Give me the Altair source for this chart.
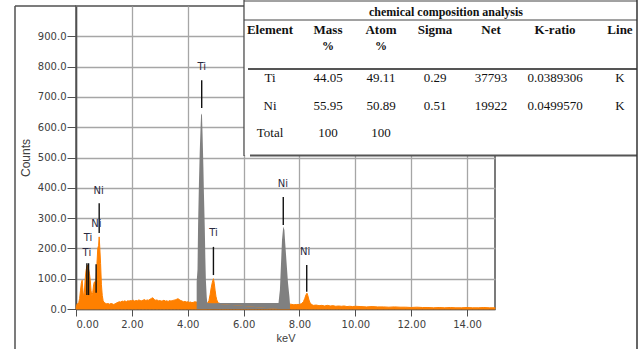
import altair as alt
import pandas as pd

# ---------------- data ----------------
# orange spectrum, split in segments (keV, counts)
low_kev = [0.00, 0.02, 0.05, 0.08, 0.10, 0.13, 0.16, 0.19, 0.22, 0.24, 0.27, 0.30, 0.33, 0.36,
           0.39, 0.42, 0.45, 0.48, 0.51, 0.54, 0.57, 0.60, 0.63, 0.66, 0.69, 0.72, 0.75, 0.78,
           0.81, 0.83, 0.85, 0.88, 0.91, 0.94, 0.97]
low_counts = [0, 12, 18, 15, 22, 35, 60, 85, 95, 70, 38, 55, 100, 128,
              140, 145, 132, 118, 95, 60, 42, 55, 80, 90, 75, 100, 150, 200,
              210, 238, 205, 150, 80, 45, 28]

bg1_kev = [1.00, 1.05, 1.10, 1.15, 1.20, 1.25, 1.30, 1.35, 1.40, 1.45, 1.50, 1.55, 1.60, 1.65,
           1.70, 1.75, 1.80, 1.85, 1.90, 1.95, 2.00, 2.05, 2.10, 2.15, 2.20, 2.25, 2.30, 2.35,
           2.40, 2.45, 2.50, 2.55, 2.60, 2.65, 2.70, 2.75, 2.80, 2.85, 2.90, 2.95, 3.00, 3.05,
           3.10, 3.15, 3.20, 3.25, 3.30, 3.35, 3.40, 3.45, 3.50, 3.55, 3.60, 3.65, 3.70, 3.75,
           3.80, 3.85, 3.90, 3.95, 4.00, 4.05, 4.10, 4.15, 4.20, 4.25, 4.30]
bg1_counts = [22, 19, 17, 18, 16, 18, 17, 15, 17, 20, 22, 24, 23, 26,
              25, 27, 24, 27, 26, 28, 27, 29, 26, 28, 27, 30, 28, 27,
              29, 31, 28, 30, 29, 32, 35, 37, 31, 29, 30, 27, 28, 26,
              27, 29, 26, 27, 25, 28, 26, 28, 29, 30, 32, 34, 31, 28,
              26, 24, 25, 23, 24, 22, 23, 21, 22, 24, 23]

tikb_kev = [4.72, 4.76, 4.80, 4.84, 4.88, 4.92, 4.95, 4.98, 5.01, 5.04, 5.08]
tikb_counts = [20, 28, 47, 70, 88, 100, 85, 62, 42, 30, 22]

bg2_kev = [5.10, 5.2, 5.3, 5.4, 5.5, 5.6, 5.7, 5.8, 5.9, 6.0, 6.1, 6.2, 6.3, 6.4, 6.5, 6.6,
           6.7, 6.8, 6.9, 7.0, 7.1, 7.2, 7.68, 7.8, 7.9, 8.0]
bg2_counts = [20, 17, 18, 15, 17, 14, 16, 15, 17, 14, 15, 13, 16, 14, 15, 13,
              15, 14, 16, 15, 17, 16, 16, 14, 15, 15]

nikb_kev = [8.08, 8.14, 8.19, 8.23, 8.27, 8.30, 8.34, 8.38]
nikb_counts = [18, 24, 35, 46, 52, 44, 30, 20]

bg3_kev = [8.45, 8.5, 8.6, 8.7, 8.8, 8.9, 9.0, 9.1, 9.2, 9.3, 9.4, 9.5, 9.6, 9.7, 9.8, 9.9,
           10.0, 10.2, 10.4, 10.6, 10.8, 11.0, 11.2, 11.4, 11.6, 11.8, 12.0, 12.2, 12.4,
           12.6, 12.8, 13.0, 13.2, 13.4, 13.6, 13.8, 14.0, 14.2, 14.4, 14.6, 14.8, 15.0]
bg3_counts = [14, 12, 13, 11, 12, 10, 12, 10, 11, 9, 10, 9, 10, 8, 9, 8,
              9, 8, 7, 8, 7, 7, 6, 7, 6, 6, 5, 6, 5,
              5, 4, 5, 4, 5, 4, 4, 5, 4, 4, 5, 4, 4]

# grey filled main peaks
ti_ka_kev = [4.32, 4.35, 4.37, 4.40, 4.43, 4.46, 4.48, 4.51, 4.53, 4.56, 4.58, 4.61, 4.63,
             4.65, 4.68, 4.70]
ti_ka_counts = [90, 130, 275, 410, 520, 600, 645, 640, 580, 470, 380, 270, 170, 95, 40, 20]
ni_ka_kev = [7.25, 7.28, 7.30, 7.34, 7.375, 7.42, 7.46, 7.49, 7.54, 7.59, 7.64, 7.66]
ni_ka_counts = [20, 47, 63, 151, 228, 272, 261, 217, 151, 86, 41, 18]

# peak marker lines
mark_kev = [0.39, 0.45, 0.72, 0.83, 4.50, 4.92, 7.42, 8.26]
mark_top = [151, 151, 148, 349, 755, 205, 370, 145]
mark_bottom = [46, 46, 54, 251, 663, 112, 277, 57]

# peak labels
lab_text = ["Ti", "Ti", "Ni", "Ni", "Ti", "Ti", "Ni", "Ni"]
lab_kev = [0.39, 0.43, 0.73, 0.81, 4.50, 4.92, 7.41, 8.20]
lab_counts = [186, 234, 282, 391, 798, 250, 414, 189]

x_ticks = [0, 2, 4, 6, 8, 10, 12, 14]
y_ticks = [0, 100, 200, 300, 400, 500, 600, 700, 800, 900]

# composition table
table_title = "chemical composition analysis"
table_header = ["Element", "Mass", "Atom", "Sigma", "Net", "K-ratio", "Line"]
table_header2 = ["", "%", "%", "", "", "", ""]
elements = ["Ti", "Ni", "Total"]
mass_pct = ["44.05", "55.95", "100"]
atom_pct = ["49.11", "50.89", "100"]
sigma = ["0.29", "0.51", ""]
net = ["37793", "19922", ""]
k_ratio = ["0.0389306", "0.0499570", ""]
line_type = ["K", "K", ""]

# ---------------- layout ----------------
OX, OY = 76, 6          # plot origin in the page
W, H = 419, 303

def px(x):
    return x - OX

def py(y):
    return y - OY

spec = pd.DataFrame({
    "keV": low_kev + bg1_kev + tikb_kev + bg2_kev + nikb_kev + bg3_kev,
    "counts": low_counts + bg1_counts + tikb_counts + bg2_counts + nikb_counts + bg3_counts,
})
grey = pd.DataFrame({
    "keV": ti_ka_kev + ni_ka_kev,
    "counts": ti_ka_counts + ni_ka_counts,
    "peak": ["Ti"] * len(ti_ka_kev) + ["Ni"] * len(ni_ka_kev),
})
marks = pd.DataFrame({"keV": mark_kev, "counts": mark_top, "bottom": mark_bottom})
labels = pd.DataFrame({"keV": lab_kev, "counts": lab_counts, "t": lab_text})

AX_FONT = "DejaVu Sans"
xs = alt.Scale(domain=[0, 15], nice=False, zero=False)
ys = alt.Scale(domain=[0, 1000], nice=False)
x_axis = alt.Axis(values=x_ticks, format=".2f", grid=True, gridColor="#a6a6a6", gridWidth=1.3,
                  tickSize=7, tickColor="#505050", labelPadding=3, labelFont=AX_FONT,
                  labelFontSize=10, labelColor="#404040", domainColor="#505050",
                  domainWidth=1.5, titleFont="Liberation Sans", titleFontSize=11,
                  titleFontWeight="normal", titleColor="#404040", titlePadding=3)
y_axis = alt.Axis(values=y_ticks, format=".1f", grid=True, gridColor="#a6a6a6", gridWidth=1.3,
                  tickSize=9, tickColor="#505050", labelPadding=1, labelFont=AX_FONT,
                  labelFontSize=10, labelColor="#404040", domainColor="#505050",
                  domainWidth=1.5, titleFont="Liberation Sans", titleFontSize=12,
                  titleFontWeight="normal", titleColor="#404040", titlePadding=5)

X = alt.X("keV:Q", scale=xs, axis=x_axis, title="keV")
Y = alt.Y("counts:Q", scale=ys, axis=y_axis, title="Counts")

orange = alt.Chart(spec).mark_area(color="#FF8000", stroke="#FF8000", strokeWidth=1,
                                   interpolate="linear").encode(x=X, y=Y)
greys = alt.Chart(grey).mark_area(color="#808080", interpolate="linear").encode(
    x=X, y=Y, detail="peak:N")
rules = alt.Chart(marks).mark_rule(color="#111111", strokeWidth=1.4).encode(
    x=X, y=Y, y2="bottom:Q")
texts = alt.Chart(labels).mark_text(font="DejaVu Sans", fontSize=10, color="#2a2a40",
                                    baseline="middle", align="center").encode(
    x=X, y=Y, text="t:N")

layers = [orange, greys, rules, texts]

one = pd.DataFrame({"a": [0]})

def hline(x1, x2, y, w=1.0, c="#333333"):
    return alt.Chart(one).mark_rule(color=c, strokeWidth=w).encode(
        x=alt.value(px(x1)), x2=alt.value(px(x2)), y=alt.value(py(y)), y2=alt.value(py(y)))

def vline(x, y1, y2, w=1.0, c="#333333"):
    return alt.Chart(one).mark_rule(color=c, strokeWidth=w).encode(
        x=alt.value(px(x)), x2=alt.value(px(x)), y=alt.value(py(y1)), y2=alt.value(py(y2)))

# table background
layers.append(alt.Chart(one).mark_rect(color="white").encode(
    x=alt.value(px(244)), x2=alt.value(px(638)), y=alt.value(py(0)), y2=alt.value(py(155))))
layers += [
    hline(244, 637, 1, 1.0, "#444444"),
    hline(244, 637, 20, 1.0, "#444444"),
    hline(248, 637, 69, 1.8, "#555555"),
    hline(250, 637, 155.5, 1.8, "#555555"),
    vline(244, 0, 156, 1.2, "#444444"),
    vline(637, 0, 349, 1.5, "#333333"),
    vline(15, 6, 349, 1.5, "#505050"),
    hline(15, 76, 6, 1.5, "#505050"),
]

SERIF = "Liberation Serif"
col_x = [270, 328, 381, 435, 491, 555, 620]

def cell(txt, x, y, bold=False, size=13):
    return alt.Chart(pd.DataFrame({"t": [txt]})).mark_text(
        font=SERIF, fontSize=size, fontWeight="bold" if bold else "normal",
        color="#111111", align="center", baseline="middle").encode(
        x=alt.value(px(x)), y=alt.value(py(y)), text="t:N")

layers.append(cell(table_title, 446, 12, bold=True, size=12))
for j, h in enumerate(table_header):
    layers.append(cell(h, col_x[j], 30, bold=True, size=13))
for j, h in enumerate(table_header2):
    if h:
        layers.append(cell(h, col_x[j], 46, bold=True, size=12))
body_cols = [elements, mass_pct, atom_pct, sigma, net, k_ratio, line_type]
row_y = [78, 105.5, 133]
for j, col in enumerate(body_cols):
    for i, v in enumerate(col):
        if v:
            layers.append(cell(v, col_x[j], row_y[i]))

chart = alt.layer(*layers).properties(
    width=W, height=H, autosize=alt.AutoSizeParams(type="none"),
    padding={"left": OX, "top": OY, "right": 639 - OX - W, "bottom": 349 - OY - H},
    background="white",
).configure_view(stroke="#505050", strokeWidth=1.5)

chart.save("out.html", embed_options={"renderer": "svg", "actions": False})
